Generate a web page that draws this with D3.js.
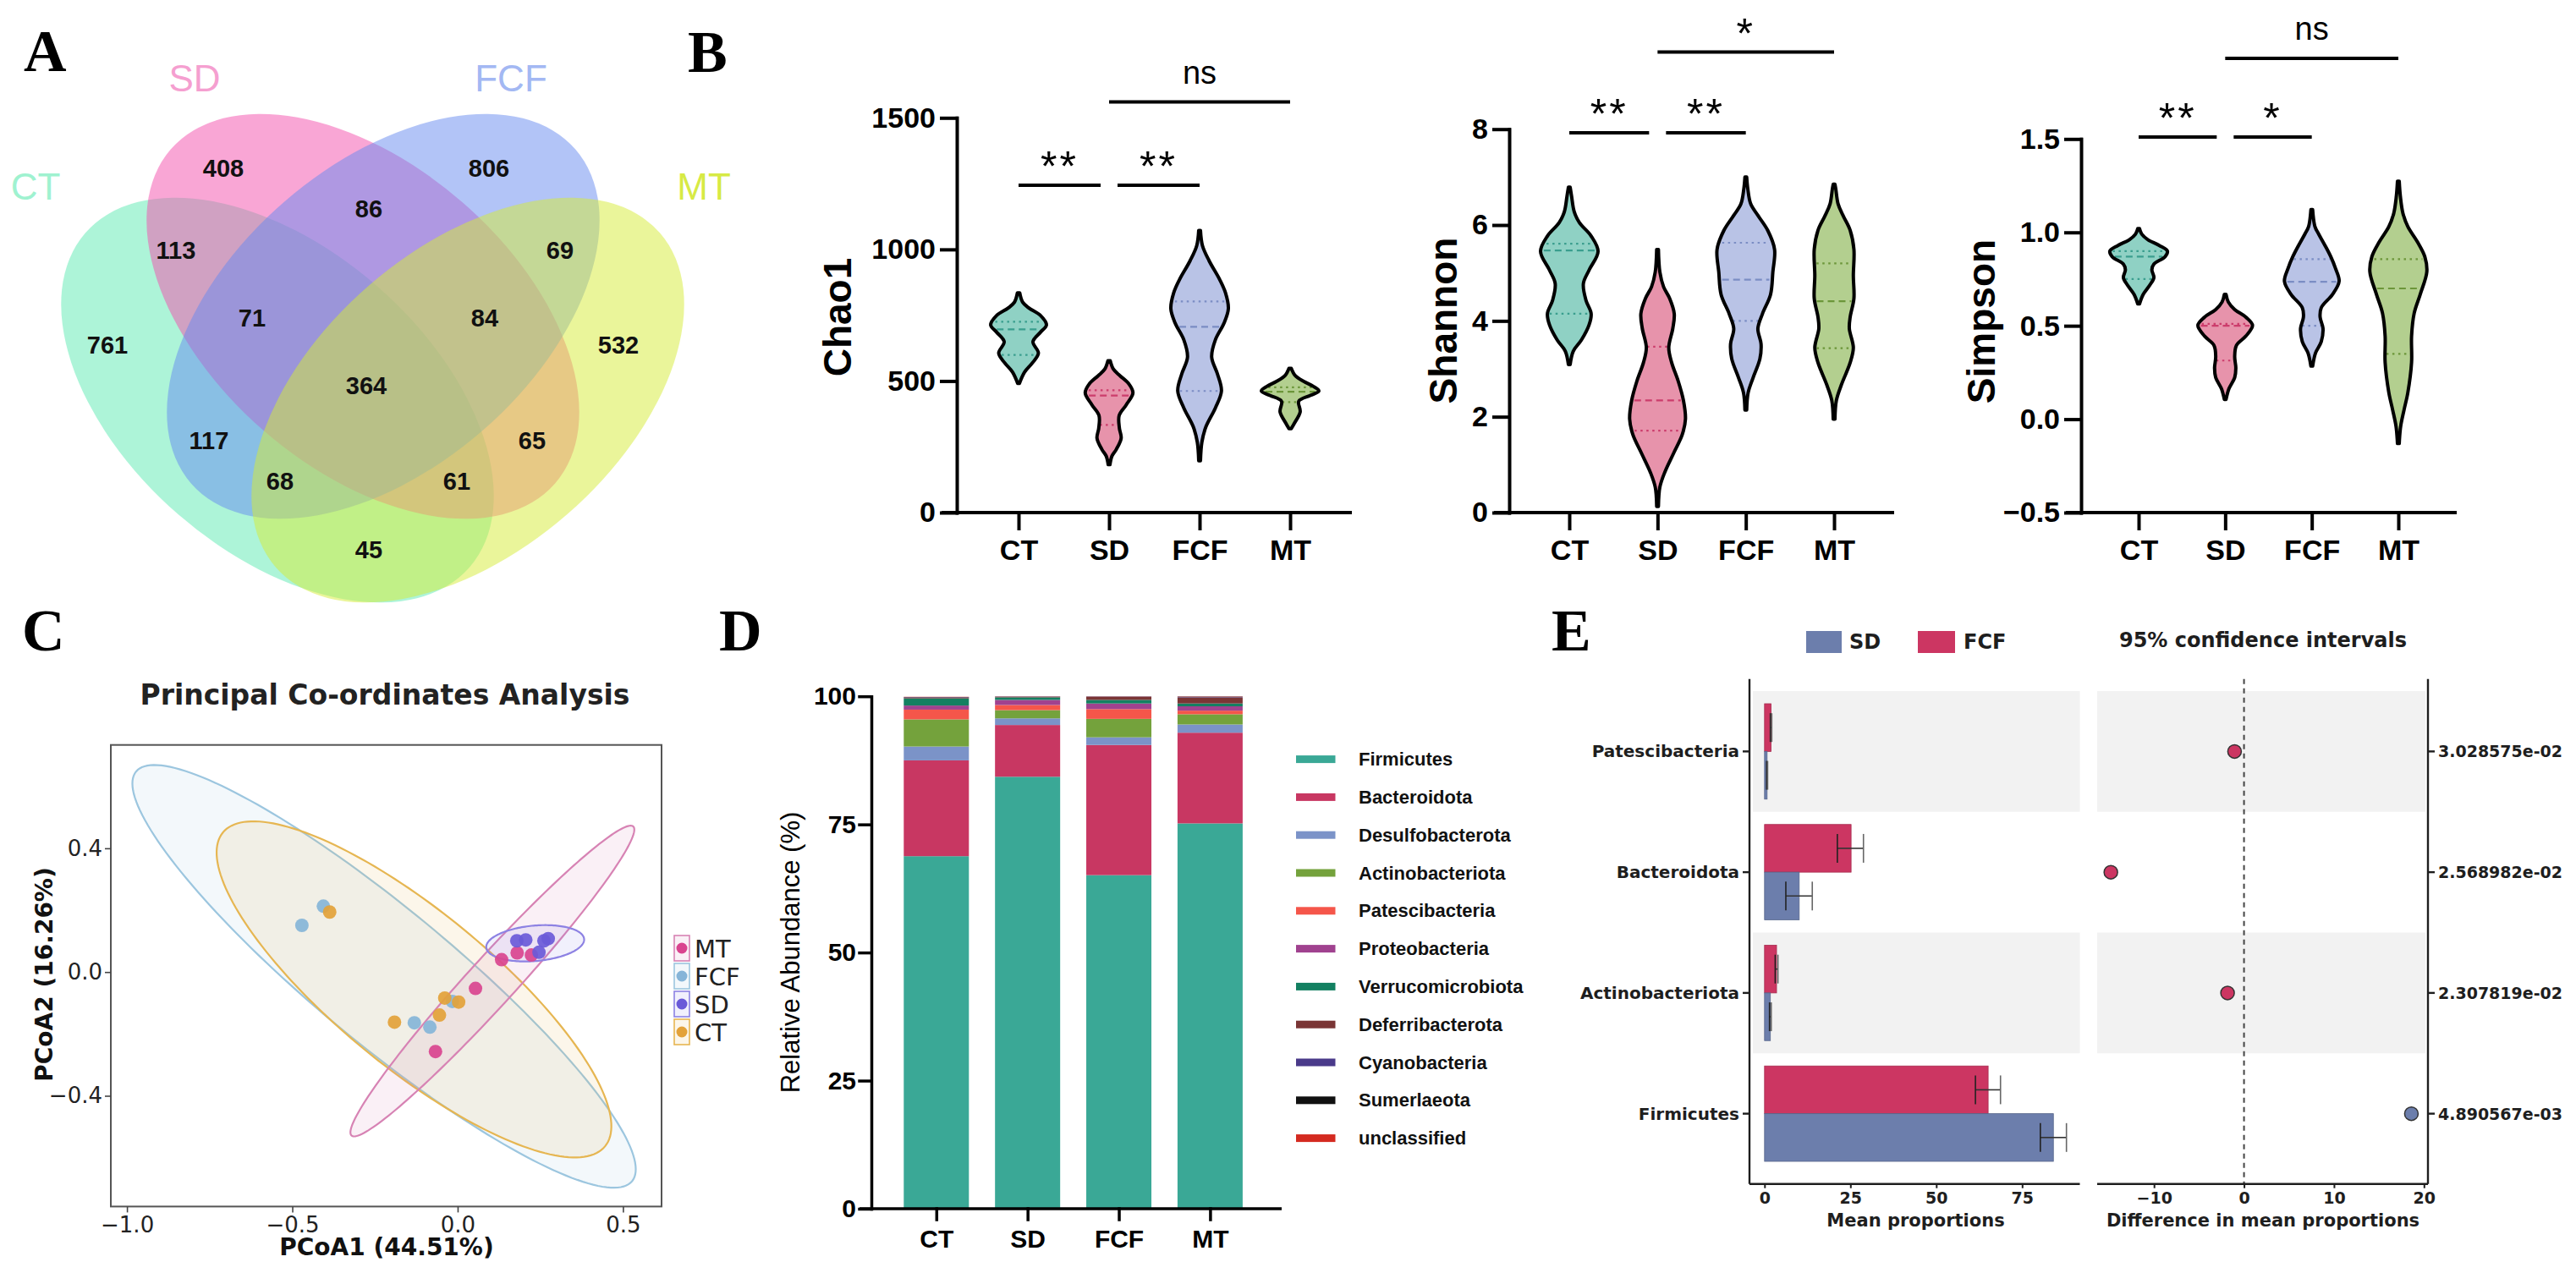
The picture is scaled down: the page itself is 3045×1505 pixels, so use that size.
<!DOCTYPE html>
<html>
<head>
<meta charset="utf-8">
<script src="https://cdn.jsdelivr.net/npm/d3@7"></script>
<style>
  body { margin: 0; background: #fff; }
  svg { display: block; }
</style>
</head>
<body>
<svg id="fig" width="3045" height="1505"></svg>
<script>
// ---------------- data ----------------
const groups = ["CT", "SD", "FCF", "MT"];

// A: Venn diagram counts
const vennSets = ["CT", "SD", "FCF", "MT"];
const vennRegions = ["CT", "SD", "FCF", "MT", "CT&SD", "SD&FCF", "FCF&MT", "CT&FCF", "SD&MT", "CT&MT",
                     "CT&SD&FCF", "SD&FCF&MT", "CT&FCF&MT", "CT&SD&MT", "CT&SD&FCF&MT"];
const vennCounts = [761, 408, 806, 532, 113, 86, 69, 117, 65, 45, 71, 84, 68, 61, 364];

// B: violin outlines, [value, relative density]
const chao1CT = [[491,0.03],[534,0.21],[570,0.49],[606,0.69],[649,0.5],[685,0.76],[713,0.97],[749,0.76],[778,0.35],[800,0.14],[835,0.04]];
const chao1SD = [[182,0.03],[215,0.1],[240,0.25],[283,0.42],[320,0.36],[369,0.35],[410,0.6],[455,0.83],[490,0.68],[520,0.38],[545,0.15],[577,0.04]];
const chao1FCF = [[197,0.03],[268,0.08],[326,0.22],[398,0.55],[462,0.76],[527,0.62],[591,0.42],[657,0.55],[720,0.85],[775,1.0],[835,0.9],[885,0.7],[957,0.33],[1014,0.1],[1072,0.03]];
const chao1MT = [[319,0.04],[340,0.15],[383,0.35],[423,0.3],[445,0.7],[462,1.0],[480,0.8],[498,0.48],[520,0.18],[548,0.04]];
const shannonCT = [[3.09,0.03],[3.37,0.14],[3.6,0.42],[3.92,0.69],[4.15,0.76],[4.43,0.58],[4.78,0.49],[5.06,0.69],[5.45,1.0],[5.77,0.76],[6.05,0.35],[6.28,0.17],[6.6,0.08],[6.79,0.03]];
const shannonSD = [[0.13,0.03],[0.53,0.08],[0.84,0.25],[1.24,0.56],[1.63,0.86],[1.95,0.97],[2.34,0.9],[2.74,0.72],[3.13,0.49],[3.44,0.39],[3.84,0.53],[4.15,0.58],[4.47,0.42],[4.71,0.21],[5.02,0.08],[5.49,0.03]];
const shannonFCF = [[2.14,0.03],[2.5,0.08],[2.81,0.25],[3.21,0.49],[3.52,0.53],[3.84,0.42],[4.15,0.58],[4.55,0.86],[5.02,0.94],[5.49,1.0],[5.89,0.76],[6.2,0.42],[6.44,0.17],[6.75,0.07],[7.0,0.03]];
const shannonMT = [[1.95,0.03],[2.34,0.08],[2.66,0.25],[3.13,0.56],[3.44,0.67],[3.84,0.53],[4.08,0.56],[4.47,0.69],[4.94,0.67],[5.49,0.69],[5.89,0.56],[6.2,0.31],[6.44,0.14],[6.75,0.06],[6.85,0.03]];
const simpsonCT = [[0.617,0.03],[0.668,0.16],[0.718,0.39],[0.758,0.53],[0.8,0.46],[0.83,0.53],[0.87,0.92],[0.9,1.0],[0.93,0.72],[0.96,0.33],[0.99,0.11],[1.02,0.03]];
const simpsonSD = [[0.106,0.03],[0.163,0.13],[0.223,0.33],[0.274,0.37],[0.334,0.33],[0.395,0.39],[0.445,0.72],[0.502,0.95],[0.546,0.72],[0.587,0.33],[0.627,0.11],[0.668,0.03]];
const simpsonFCF = [[0.284,0.03],[0.354,0.13],[0.415,0.33],[0.486,0.39],[0.546,0.29],[0.597,0.33],[0.668,0.72],[0.738,0.95],[0.809,0.82],[0.87,0.66],[0.93,0.46],[0.991,0.24],[1.031,0.11],[1.122,0.03]];
const simpsonMT = [[-0.13,0.03],[-0.039,0.08],[0.051,0.2],[0.142,0.33],[0.304,0.46],[0.445,0.46],[0.567,0.55],[0.668,0.76],[0.789,0.99],[0.87,0.92],[0.95,0.66],[1.031,0.33],[1.102,0.16],[1.193,0.07],[1.274,0.03]];
// quartiles (Q1, median, Q3)
const chao1Quart = [[599,696,725],[333,445,465],[462,706,802],[420,459,476]];
const shannonQuart = [[4.15,5.47,5.61],[1.71,2.34,3.46],[4.0,4.86,5.63],[3.43,4.41,5.2]];
const simpsonQuart = [[0.75,0.87,0.9],[0.314,0.5,0.51],[0.5,0.736,0.857],[0.35,0.7,0.857]];
// significance brackets: from, to, label, level
const chao1Sig = [["CT","SD","**",0],["SD","FCF","**",0],["SD","MT","ns",1]];
const shannonSig = [["CT","SD","**",0],["SD","FCF","**",0],["SD","MT","*",1]];
const simpsonSig = [["CT","SD","**",0],["SD","FCF","*",0],["SD","MT","ns",1]];

// C: PCoA scores
const pcoaLegend = ["MT", "FCF", "SD", "CT"];
const pcoaCTx = [-0.387, -0.039, 0.003, -0.055, -0.191];
const pcoaCTy = [0.194, -0.084, -0.097, -0.139, -0.162];
const pcoaFCFx = [-0.406, -0.471, -0.016, -0.131, -0.084];
const pcoaFCFy = [0.213, 0.151, -0.095, -0.164, -0.178];
const pcoaMTx = [0.133, 0.18, 0.223, 0.054, -0.067];
const pcoaMTy = [0.04, 0.062, 0.055, -0.053, -0.257];
const pcoaSDx = [0.179, 0.206, 0.246, 0.261, 0.274];
const pcoaSDy = [0.101, 0.104, 0.064, 0.101, 0.108];
// confidence ellipses: centre x, centre y, semi-axis 1 (dx, dy), semi-axis 2 (dx, dy)
const ellCT = [-0.132, -0.056, 0.578, -0.507, -0.149, -0.195];
const ellFCF = [-0.2225, -0.014, 0.75, -0.662, -0.13, -0.169];
const ellMT = [0.105, -0.029, 0.426, 0.4995, 0.053, -0.052];
const ellSD = [0.2345, 0.093, 0.148, 0.014, 0.005, -0.057];

// D: phylum relative abundance (%)
const phyla = ["Firmicutes", "Bacteroidota", "Desulfobacterota", "Actinobacteriota", "Patescibacteria",
               "Proteobacteria", "Verrucomicrobiota", "Deferribacterota", "Cyanobacteria", "Sumerlaeota", "unclassified"];
const phylaCT = [68.8, 18.7, 2.7, 5.3, 1.9, 0.8, 1.4, 0.1, 0.1, 0.05, 0.05];
const phylaSD = [84.3, 10.1, 1.3, 1.6, 1.0, 1.0, 0.5, 0.1, 0.05, 0.02, 0.03];
const phylaFCF = [65.1, 25.4, 1.5, 3.6, 1.9, 1.1, 0.7, 0.6, 0.05, 0.02, 0.03];
const phylaMT = [75.2, 17.7, 1.6, 2.0, 0.7, 0.85, 0.55, 1.2, 0.1, 0.05, 0.05];
const phylaColors = ["#3aa896", "#c83762", "#7b93c8", "#74a23c", "#f5564a", "#a0428f", "#138061", "#7a3535", "#4a3a8a", "#111111", "#d42a20"];

// E: STAMP extended error bar (SD vs FCF)
const eTaxa = ["Patescibacteria", "Bacteroidota", "Actinobacteriota", "Firmicutes"];
const eSDMean = [0.75, 10.1, 1.7, 84.1];
const eSDLow = [0.6, 6.2, 1.45, 80.3];
const eSDHigh = [0.9, 13.9, 1.95, 87.9];
const eFCFMean = [1.9, 25.2, 3.5, 65.1];
const eFCFLow = [1.7, 21.2, 3.1, 61.4];
const eFCFHigh = [2.1, 28.8, 3.9, 68.7];
const eDiff = [-1.05, -14.8, -1.83, 18.6];
const ePValues = ["3.028575e-02", "2.568982e-02", "2.307819e-02", "4.890567e-03"];

// ---------------- drawing ----------------
const SANS = "'Liberation Sans', Arial, sans-serif";
const DV = "'DejaVu Sans', Verdana, sans-serif";
const SERIF = "'Liberation Serif', 'Times New Roman', serif";
const svg = d3.select("#fig");
svg.append("rect").attr("width", 3045).attr("height", 1505).attr("fill", "#fff");

// panel letters
[["A", 28, 84], ["B", 813, 85], ["C", 26, 769], ["D", 850, 769], ["E", 1834, 769]].forEach(([t, x, y]) => {
  svg.append("text").attr("x", x).attr("y", y).text(t)
    .attr("font-family", SERIF).attr("font-weight", "bold").attr("font-size", 70).attr("fill", "#000");
});

// ---- A: Venn ----
{
  const g = svg.append("g");
  const shape = { CT: [328, 473, 41], SD: [429, 374, 41], FCF: [453, 374, -41], MT: [553, 473, -41] };
  const fill = { CT: "#5beab1", SD: "#f34dab", FCF: "#6589ef", MT: "#d5eb35" };
  const labelCol = { CT: "#9ff2d0", SD: "#f59fd0", FCF: "#a3b8f3", MT: "#d7ea45" };
  const labelPos = { CT: [42, 236], SD: [230, 108], FCF: [604, 108], MT: [832, 236] };
  const regionPos = {
    "CT": [127, 408], "SD": [264, 199], "FCF": [578, 199], "MT": [731, 408],
    "CT&SD": [208, 296], "SD&FCF": [436, 247], "FCF&MT": [662, 296], "CT&FCF": [247, 521],
    "SD&MT": [629, 521], "CT&MT": [436, 650], "CT&SD&FCF": [298, 376], "SD&FCF&MT": [573, 376],
    "CT&FCF&MT": [331, 569], "CT&SD&MT": [540, 569], "CT&SD&FCF&MT": [433, 456]
  };
  g.selectAll("ellipse").data(vennSets).join("ellipse")
    .attr("rx", 301).attr("ry", 179)
    .attr("transform", d => `translate(${shape[d][0]},${shape[d][1]}) rotate(${shape[d][2]})`)
    .attr("fill", d => fill[d]).attr("fill-opacity", 0.5);
  g.selectAll("text.set").data(vennSets).join("text").attr("class", "set")
    .attr("x", d => labelPos[d][0]).attr("y", d => labelPos[d][1])
    .attr("text-anchor", "middle").attr("font-family", SANS).attr("font-size", 44)
    .attr("fill", d => labelCol[d]).text(d => d);
  g.selectAll("text.cnt").data(vennRegions).join("text").attr("class", "cnt")
    .attr("x", d => regionPos[d][0]).attr("y", d => regionPos[d][1])
    .attr("text-anchor", "middle").attr("dominant-baseline", "central")
    .attr("font-family", SANS).attr("font-weight", "bold").attr("font-size", 29).attr("fill", "#111")
    .text((d, i) => vennCounts[i]);
}

// ---- B: violins ----
const violinFill = ["#8fd1c4", "#e793ab", "#b9c3e6", "#b3cf8f"];
const violinLine = ["#3a9e8e", "#cc3d6c", "#7b8dc4", "#6c963a"];

function widthAt(prof, v) {
  for (let i = 0; i < prof.length - 1; i++) {
    const a = prof[i], b = prof[i + 1];
    if (v >= a[0] && v <= b[0]) return a[1] + (b[1] - a[1]) * (v - a[0]) / (b[0] - a[0]);
  }
  return 0;
}

function violinPanel(o) {
  const g = svg.append("g");
  const x = d3.scalePoint().domain(groups).range(o.xRange);
  const y = d3.scaleLinear().domain(o.domain).range([606, o.yTop]);
  const w = d3.scaleLinear().domain([0, 1]).range([0, 34]);

  o.profiles.forEach((prof, i) => {
    const cx = x(groups[i]);
    const area = d3.area().curve(d3.curveCatmullRom.alpha(0.5))
      .y(d => y(d[0])).x0(d => cx - w(d[1])).x1(d => cx + w(d[1]));
    g.append("path").attr("d", area(prof)).attr("fill", violinFill[i]);
    o.quart[i].forEach((q, k) => {
      const hw = w(widthAt(prof, q)) * 0.9;
      g.append("line").attr("x1", cx - hw).attr("x2", cx + hw).attr("y1", y(q)).attr("y2", y(q))
        .attr("stroke", violinLine[i]).attr("stroke-width", 2.2)
        .attr("stroke-dasharray", k === 1 ? "8,5" : "2.5,4.5");
    });
    g.append("path").attr("d", area(prof)).attr("fill", "none")
      .attr("stroke", "#000").attr("stroke-width", 4).attr("stroke-linejoin", "round");
  });

  const ya = g.append("g").attr("transform", `translate(${o.axisX},0)`)
    .call(d3.axisLeft(y).tickValues(o.ticks).tickFormat(o.fmt).tickSize(18).tickSizeOuter(0).tickPadding(7));
  const xa = g.append("g").attr("transform", "translate(0,606)")
    .call(d3.axisBottom(x).tickSize(19).tickSizeOuter(0).tickPadding(13));
  xa.select(".domain").remove();
  g.append("line").attr("x1", o.axisX - 18).attr("x2", o.xEnd).attr("y1", 606).attr("y2", 606)
    .attr("stroke", "#000").attr("stroke-width", 4);
  [ya, xa].forEach(a => {
    a.selectAll("path,line").attr("stroke", "#000").attr("stroke-width", 4).attr("stroke-linecap", "square");
    a.selectAll("text").attr("font-family", SANS).attr("font-weight", "bold").attr("font-size", 34).attr("fill", "#000");
  });
  g.append("text").attr("transform", `translate(${o.labelX},${o.labelY}) rotate(-90)`)
    .attr("text-anchor", "middle").attr("dominant-baseline", "central")
    .attr("font-family", SANS).attr("font-weight", "bold").attr("font-size", 46).text(o.label);

  o.sig.forEach(([a, b, lab, lev]) => {
    const shareA = o.sig.some(s => s[3] === lev && s[1] === a);
    const shareB = o.sig.some(s => s[3] === lev && s[0] === b);
    const x1 = x(a) + (shareA ? 10 : 0), x2 = x(b) - (shareB ? 10 : 0);
    const ly = o.levels[lev];
    g.append("line").attr("x1", x1).attr("x2", x2).attr("y1", ly).attr("y2", ly)
      .attr("stroke", "#000").attr("stroke-width", 4);
    const star = lab.includes("*");
    g.append("text").attr("x", (x1 + x2) / 2).attr("y", ly - (star ? 5 : 22))
      .attr("text-anchor", "middle").attr("font-family", SANS)
      .attr("font-size", star ? 50 : 38).attr("letter-spacing", star ? 3 : 0).text(lab);
  });
}

violinPanel({
  axisX: 1131, xRange: [1204, 1525], xEnd: 1598, yTop: 139.3, domain: [0, 1500],
  ticks: [0, 500, 1000, 1500], fmt: d3.format("d"), label: "Chao1", labelX: 990, labelY: 375,
  profiles: [chao1CT, chao1SD, chao1FCF, chao1MT], quart: chao1Quart, sig: chao1Sig, levels: [219, 120.5]
});
violinPanel({
  axisX: 1784, xRange: [1855, 2168], xEnd: 2239, yTop: 152.7, domain: [0, 8],
  ticks: [0, 2, 4, 6, 8], fmt: d3.format("d"), label: "Shannon", labelX: 1706, labelY: 379,
  profiles: [shannonCT, shannonSD, shannonFCF, shannonMT], quart: shannonQuart, sig: shannonSig, levels: [157, 61.6]
});
violinPanel({
  axisX: 2460, xRange: [2528, 2835], xEnd: 2904, yTop: 164.3, domain: [-0.5, 1.5],
  ticks: [-0.5, 0, 0.5, 1, 1.5], fmt: d3.format(".1f"), label: "Simpson", labelX: 2342, labelY: 380,
  profiles: [simpsonCT, simpsonSD, simpsonFCF, simpsonMT], quart: simpsonQuart, sig: simpsonSig, levels: [162, 69]
});

// ---- C: PCoA ----
{
  const g = svg.append("g");
  const L = 131, R = 782, T = 880.7, B = 1426.4;
  const x = d3.scaleLinear().domain([-1, 0.5]).range([150.1, 736.4]);
  const y = d3.scaleLinear().domain([-0.4, 0.4]).range([1295.5, 1002.9]);
  const col = { MT: "#d9448f", FCF: "#86b5d8", SD: "#6a5ad8", CT: "#e3a23a" };
  const ellCol = { MT: "#d783b4", FCF: "#9cc6df", SD: "#8d82e3", CT: "#e6b652" };
  const ells = { FCF: ellFCF, CT: ellCT, MT: ellMT, SD: ellSD };
  const pts = {
    CT: d3.zip(pcoaCTx, pcoaCTy), FCF: d3.zip(pcoaFCFx, pcoaFCFy),
    MT: d3.zip(pcoaMTx, pcoaMTy), SD: d3.zip(pcoaSDx, pcoaSDy)
  };
  g.append("clipPath").attr("id", "pcoaClip").append("rect")
    .attr("x", L).attr("y", T).attr("width", R - L).attr("height", B - T);
  const inner = g.append("g").attr("clip-path", "url(#pcoaClip)");
  const angles = d3.range(0, 360, 2).map(a => a * Math.PI / 180);
  const line = d3.line().curve(d3.curveLinearClosed);
  ["FCF", "CT", "MT", "SD"].forEach(k => {
    const e = ells[k];
    const p = angles.map(t => [
      x(e[0] + Math.cos(t) * e[2] + Math.sin(t) * e[4]),
      y(e[1] + Math.cos(t) * e[3] + Math.sin(t) * e[5])
    ]);
    inner.append("path").attr("d", line(p)).attr("fill", ellCol[k]).attr("fill-opacity", 0.12)
      .attr("stroke", ellCol[k]).attr("stroke-width", 2.2);
  });
  ["FCF", "CT", "MT", "SD"].forEach(k => {
    inner.selectAll(null).data(pts[k]).join("circle")
      .attr("cx", d => x(d[0])).attr("cy", d => y(d[1])).attr("r", 8)
      .attr("fill", col[k]).attr("fill-opacity", 0.92);
  });
  g.append("rect").attr("x", L).attr("y", T).attr("width", R - L).attr("height", B - T)
    .attr("fill", "none").attr("stroke", "#555").attr("stroke-width", 2);
  const xa = g.append("g").attr("transform", `translate(0,${B})`)
    .call(d3.axisBottom(x).tickValues([-1, -0.5, 0, 0.5]).tickFormat(d3.format(".1f")).tickSize(7).tickPadding(5));
  const ya = g.append("g").attr("transform", `translate(${L},0)`)
    .call(d3.axisLeft(y).tickValues([-0.4, 0, 0.4]).tickFormat(d3.format(".1f")).tickSize(7).tickPadding(3));
  [xa, ya].forEach(a => {
    a.select(".domain").remove();
    a.selectAll("line").attr("stroke", "#444").attr("stroke-width", 1.6);
    a.selectAll("text").attr("font-family", DV).attr("font-size", 26).attr("fill", "#222");
  });
  g.append("text").attr("x", 455).attr("y", 833).attr("text-anchor", "middle")
    .attr("font-family", DV).attr("font-weight", "bold").attr("font-size", 33).attr("fill", "#222")
    .text("Principal Co-ordinates Analysis");
  g.append("text").attr("x", 457).attr("y", 1484).attr("text-anchor", "middle")
    .attr("font-family", DV).attr("font-weight", "bold").attr("font-size", 28).attr("fill", "#111")
    .text("PCoA1 (44.51%)");
  g.append("text").attr("transform", "translate(52,1152) rotate(-90)").attr("text-anchor", "middle")
    .attr("dominant-baseline", "central")
    .attr("font-family", DV).attr("font-weight", "bold").attr("font-size", 28).attr("fill", "#111")
    .text("PCoA2 (16.26%)");
  const leg = g.selectAll("g.leg").data(pcoaLegend).join("g").attr("class", "leg")
    .attr("transform", (d, i) => `translate(806,${1121 + i * 33})`);
  leg.append("rect").attr("x", -9).attr("y", -15).attr("width", 18).attr("height", 30)
    .attr("fill", d => ellCol[d]).attr("fill-opacity", 0.12).attr("stroke", d => ellCol[d]).attr("stroke-width", 1.6);
  leg.append("circle").attr("r", 6.5).attr("fill", d => col[d]);
  leg.append("text").attr("x", 15).attr("y", 1).attr("dominant-baseline", "central")
    .attr("font-family", DV).attr("font-size", 29).attr("fill", "#222").text(d => d);
}

// ---- D: stacked bars ----
{
  const g = svg.append("g");
  const rows = [phylaCT, phylaSD, phylaFCF, phylaMT].map((v, i) => {
    const r = { group: groups[i] };
    phyla.forEach((p, j) => r[p] = v[j]);
    return r;
  });
  const series = d3.stack().keys(phyla)(rows);
  const x = d3.scalePoint().domain(groups).range([1106.8, 1430.4]);
  const y = d3.scaleLinear().domain([0, 100]).range([1429, 823.2]);
  const color = d3.scaleOrdinal().domain(phyla).range(phylaColors);
  const bw = 77;
  g.selectAll("g.s").data(series).join("g").attr("class", "s").attr("fill", d => color(d.key))
    .selectAll("rect").data(d => d).join("rect")
    .attr("x", d => x(d.data.group) - bw / 2).attr("width", bw)
    .attr("y", d => y(d[1])).attr("height", d => y(d[0]) - y(d[1]));
  const ya = g.append("g").attr("transform", "translate(1030,0)")
    .call(d3.axisLeft(y).tickValues([0, 25, 50, 75, 100]).tickSize(14).tickSizeOuter(0).tickPadding(4));
  const xa = g.append("g").attr("transform", "translate(0,1429)")
    .call(d3.axisBottom(x).tickSize(13).tickSizeOuter(0).tickPadding(12));
  xa.select(".domain").remove();
  g.append("line").attr("x1", 1016).attr("x2", 1515).attr("y1", 1429).attr("y2", 1429)
    .attr("stroke", "#000").attr("stroke-width", 3.5);
  [ya, xa].forEach(a => {
    a.selectAll("path,line").attr("stroke", "#000").attr("stroke-width", 3.5).attr("stroke-linecap", "square");
    a.selectAll("text").attr("font-family", SANS).attr("font-weight", "bold").attr("font-size", 30).attr("fill", "#000");
  });
  g.append("text").attr("transform", "translate(934,1126) rotate(-90)").attr("text-anchor", "middle")
    .attr("dominant-baseline", "central").attr("font-family", SANS).attr("font-size", 31).text("Relative Abundance (%)");
  const leg = g.selectAll("g.leg").data(phyla).join("g").attr("class", "leg")
    .attr("transform", (d, i) => `translate(1532,${897.6 + i * 44.8})`);
  leg.append("rect").attr("x", 0).attr("y", -4.5).attr("width", 46.5).attr("height", 9).attr("fill", d => color(d));
  leg.append("text").attr("x", 74).attr("y", 0).attr("dominant-baseline", "central")
    .attr("font-family", SANS).attr("font-weight", "bold").attr("font-size", 22).attr("fill", "#111").text(d => d);
}

// ---- E: extended error bar plot ----
{
  const g = svg.append("g");
  const sdCol = "#6c7eac", fcfCol = "#cc3662", ink = "#1e1e1e";
  const T = 802.7, B = 1399.7;
  const rowY = d3.scaleBand().domain(eTaxa).range([817, 1388]);
  const xl = d3.scaleLinear().domain([0, 75]).range([2085.8, 2390.3]);
  const xr = d3.scaleLinear().domain([-10, 20]).range([2546.2, 2865.3]);
  const step = rowY.step(), bh = step * 0.395;

  eTaxa.forEach((t, i) => {
    if (i % 2 === 0) {
      g.append("rect").attr("x", 2072).attr("y", rowY(t)).attr("width", 2458.5 - 2072).attr("height", step).attr("fill", "#f2f2f2");
      g.append("rect").attr("x", 2479).attr("y", rowY(t)).attr("width", 2867 - 2479).attr("height", step).attr("fill", "#f2f2f2");
    }
  });
  const cy = t => rowY(t) + step / 2;
  const bars = [
    { mean: eFCFMean, lo: eFCFLow, hi: eFCFHigh, col: fcfCol, off: -bh },
    { mean: eSDMean, lo: eSDLow, hi: eSDHigh, col: sdCol, off: 0 }
  ];
  bars.forEach(s => {
    eTaxa.forEach((t, i) => {
      const top = cy(t) + s.off;
      g.append("rect").attr("x", xl(0)).attr("y", top).attr("width", xl(s.mean[i]) - xl(0)).attr("height", bh)
        .attr("fill", s.col).attr("stroke", d3.color(s.col).darker(0.6)).attr("stroke-width", 0.8);
      const my = top + bh / 2;
      g.append("line").attr("x1", xl(s.lo[i])).attr("x2", xl(s.hi[i])).attr("y1", my).attr("y2", my)
        .attr("stroke", "#333").attr("stroke-width", 1.6);
      [s.lo[i], s.hi[i]].forEach((v, k) => {
        g.append("line").attr("x1", xl(v)).attr("x2", xl(v)).attr("y1", my - 17).attr("y2", my + 17)
          .attr("stroke", k === 0 ? "#222" : "#666").attr("stroke-width", 1.6);
      });
    });
  });
  g.append("line").attr("x1", xr(0)).attr("x2", xr(0)).attr("y1", T).attr("y2", B)
    .attr("stroke", "#444").attr("stroke-width", 2).attr("stroke-dasharray", "6,5");
  g.selectAll("circle.d").data(eDiff).join("circle").attr("class", "d")
    .attr("cx", d => xr(d)).attr("cy", (d, i) => cy(eTaxa[i])).attr("r", 8)
    .attr("fill", d => d < 0 ? fcfCol : sdCol).attr("stroke", "#333").attr("stroke-width", 1.5);

  // axes
  const axisLine = (x1, y1, x2, y2) => g.append("line").attr("x1", x1).attr("y1", y1).attr("x2", x2).attr("y2", y2)
    .attr("stroke", ink).attr("stroke-width", 2.4);
  axisLine(2068, T, 2068, B); axisLine(2068, B, 2458.5, B);
  axisLine(2479, B, 2870, B); axisLine(2870, T, 2870, B);
  const txt = (sel) => sel.attr("font-family", DV).attr("font-weight", "bold").attr("fill", ink);
  const xla = g.append("g").attr("transform", `translate(0,${B})`)
    .call(d3.axisBottom(xl).tickValues([0, 25, 50, 75]).tickSize(5).tickPadding(5));
  const xra = g.append("g").attr("transform", `translate(0,${B})`)
    .call(d3.axisBottom(xr).tickValues([-10, 0, 10, 20]).tickFormat(d3.format("d")).tickSize(5).tickPadding(5));
  [xla, xra].forEach(a => {
    a.select(".domain").remove();
    a.selectAll("line").attr("stroke", ink).attr("stroke-width", 2);
    txt(a.selectAll("text")).attr("font-size", 19);
  });
  eTaxa.forEach((t, i) => {
    axisLine(2060, cy(t), 2068, cy(t));
    txt(g.append("text")).attr("x", 2056).attr("y", cy(t)).attr("text-anchor", "end").attr("dominant-baseline", "central")
      .attr("font-size", 20).text(t);
    axisLine(2870, cy(t), 2878, cy(t));
    txt(g.append("text")).attr("x", 2882).attr("y", cy(t)).attr("dominant-baseline", "central")
      .attr("font-size", 19).text(ePValues[i]);
  });
  txt(g.append("text")).attr("x", 2264.5).attr("y", 1450).attr("text-anchor", "middle").attr("font-size", 21).text("Mean proportions");
  txt(g.append("text")).attr("x", 2675).attr("y", 1450).attr("text-anchor", "middle").attr("font-size", 21).text("Difference in mean proportions");
  // legend + title
  g.append("rect").attr("x", 2135).attr("y", 746).attr("width", 42).attr("height", 26).attr("fill", sdCol);
  g.append("rect").attr("x", 2267).attr("y", 746).attr("width", 44).attr("height", 26).attr("fill", fcfCol);
  txt(g.append("text")).attr("x", 2186).attr("y", 767).attr("font-size", 24).text("SD");
  txt(g.append("text")).attr("x", 2321).attr("y", 767).attr("font-size", 24).text("FCF");
  txt(g.append("text")).attr("x", 2675).attr("y", 765).attr("text-anchor", "middle").attr("font-size", 24).text("95% confidence intervals");
}
</script>
</body>
</html>
